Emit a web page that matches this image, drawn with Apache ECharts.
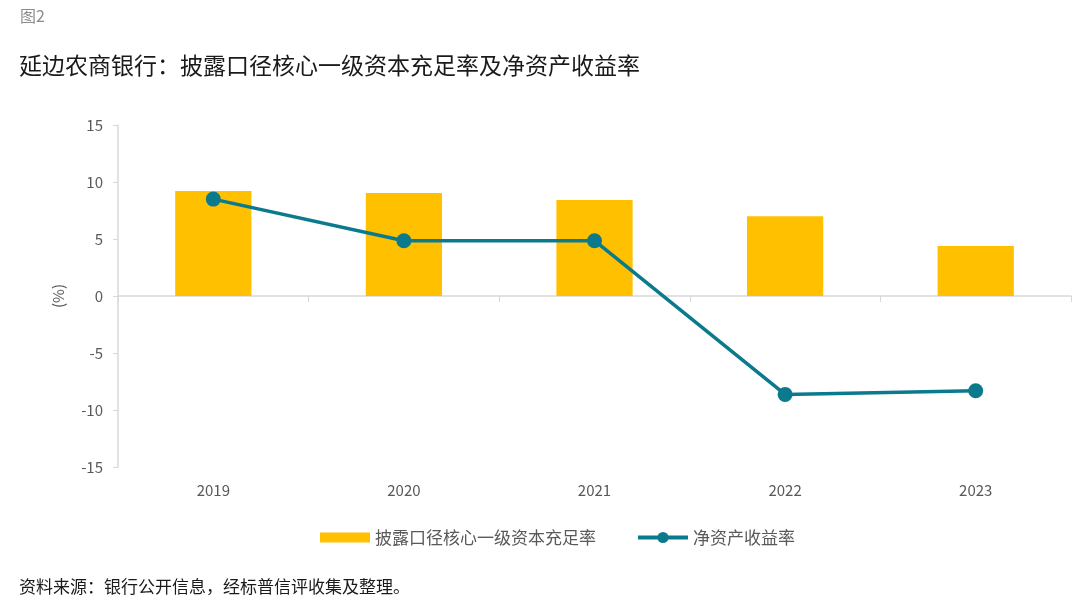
<!DOCTYPE html>
<html>
<head>
<meta charset="utf-8">
<script src="https://cdn.jsdelivr.net/npm/echarts@6/dist/echarts.min.js"></script>
<style>
html,body{margin:0;padding:0;background:#fff;}
#c{width:1080px;height:602px;}
</style>
</head>
<body>
<div id="c"></div>
<script>
var categories = ['2019', '2020', '2021', '2022', '2023'];
var capitalRatio = [9.22, 9.03, 8.43, 7.0, 4.38];
var roe = [8.5, 4.85, 4.85, -8.63, -8.31];
var yTicks = { min: -15, max: 15, interval: 5 };

var FONT = '"Noto Sans CJK SC", "Noto Sans", sans-serif';
var chart = echarts.init(document.getElementById('c'));
chart.setOption({
  animation: false,
  backgroundColor: '#fff',
  textStyle: { fontFamily: FONT },
  title: [
    { text: '图2', left: 15, top: 3, textStyle: { fontSize: 16, color: '#8c8c8c', fontWeight: 'normal', fontFamily: FONT } },
    { text: '延边农商银行：披露口径核心一级资本充足率及净资产收益率', left: 14, top: 49, textStyle: { fontSize: 23, color: '#1a1a1a', fontWeight: 'normal', fontFamily: FONT } },
    { text: '资料来源：银行公开信息，经标普信评收集及整理。', left: 14, top: 573, textStyle: { fontSize: 17, color: '#1a1a1a', fontWeight: 'normal', fontFamily: FONT } }
  ],
  legend: {
    top: 524,
    left: 315,
    itemGap: 40,
    itemWidth: 50,
    itemHeight: 14,
    itemTextGap: 6,
    textStyle: { fontSize: 17, color: '#595959', fontFamily: FONT },
    data: [
      { name: '披露口径核心一级资本充足率', icon: 'path://M0,0h50v10h-50z' },
      { name: '净资产收益率', lineStyle: { width: 4 } }
    ]
  },
  grid: { left: 118, right: 9, top: 125, bottom: 135, containLabel: false },
  xAxis: [
    {
      type: 'category',
      data: categories,
      position: 'bottom',
      axisLine: { show: false, onZero: false },
      axisTick: { show: false },
      axisLabel: { color: '#595959', fontSize: 15, margin: 16, fontFamily: FONT }
    },
    {
      type: 'category',
      data: categories,
      position: 'top',
      axisLine: { show: true, onZero: true, lineStyle: { color: '#d9d9d9', width: 1.5 } },
      axisTick: { show: true, inside: true, length: 6, lineStyle: { color: '#d9d9d9' } },
      axisLabel: { show: false }
    }
  ],
  yAxis: {
    type: 'value',
    min: yTicks.min,
    max: yTicks.max,
    interval: yTicks.interval,
    name: '(%)',
    nameLocation: 'middle',
    nameGap: 52,
    nameRotate: 90,
    nameTextStyle: { color: '#595959', fontSize: 15, fontFamily: FONT },
    axisLine: { show: true, lineStyle: { color: '#d9d9d9', width: 1.5 } },
    axisTick: { show: true, length: 5, lineStyle: { color: '#d9d9d9' } },
    axisLabel: { color: '#595959', fontSize: 15, margin: 15, fontFamily: FONT },
    splitLine: { show: false }
  },
  series: [
    {
      name: '披露口径核心一级资本充足率',
      type: 'bar',
      xAxisIndex: 0,
      data: capitalRatio,
      barWidth: '40%',
      itemStyle: { color: '#FFC000' }
    },
    {
      name: '净资产收益率',
      type: 'line',
      xAxisIndex: 0,
      data: roe,
      symbol: 'circle',
      symbolSize: 15,
      lineStyle: { color: '#0B7A8C', width: 3.5 },
      itemStyle: { color: '#0B7A8C' }
    }
  ]
});
</script>
</body>
</html>
